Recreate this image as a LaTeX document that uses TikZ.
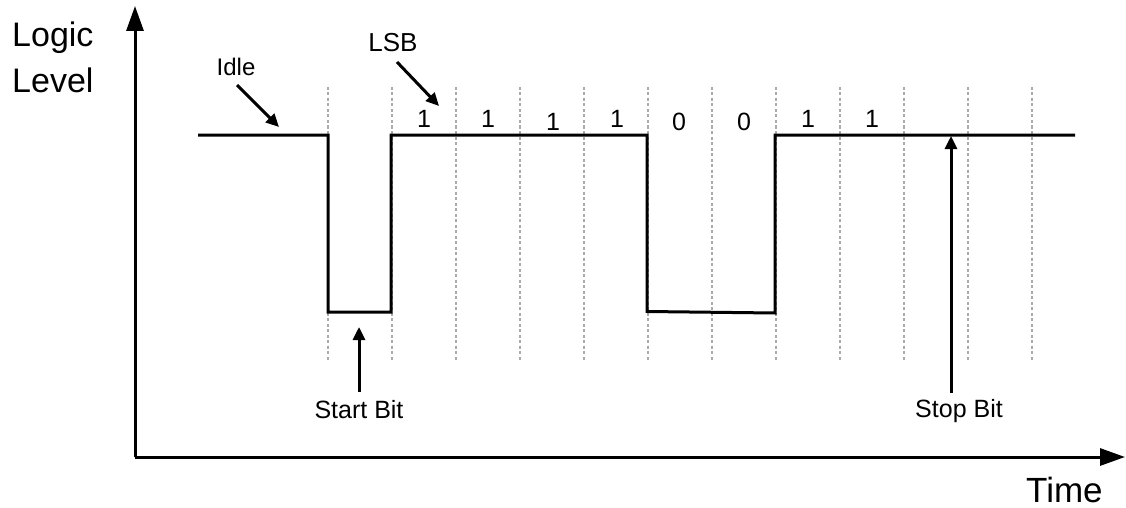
\documentclass[tikz,border=0pt]{standalone}
\usepackage{fontspec}
\setmainfont{Liberation Sans}
\usetikzlibrary{arrows.meta}
\begin{document}
\begin{tikzpicture}[x=1pt,y=-1pt,
  axis/.style={line width=3pt,-{Triangle[length=25pt,width=17pt]}},
  ann/.style={line width=3pt,-{Triangle[length=13pt,width=12pt]}},
  signal/.style={line width=3pt,line join=miter},
  gridline/.style={line width=2pt,color=black!33,dash pattern=on 3pt off 2.5pt},
  big/.style={anchor=base west,inner sep=0pt,font=\fontsize{34}{40}\selectfont},
  lbl/.style={anchor=base,inner sep=0pt,font=\fontsize{25}{30}\selectfont}]
\useasboundingbox (0,0) rectangle (1126,508);
% dashed bit boundaries
\foreach \i in {0,...,11}{
  \draw[gridline] (328+64*\i,87) -- (328+64*\i,360);
}
% axes
\coordinate (O) at (135,457);
\coordinate (Ytop) at (135,6);
\coordinate (Xend) at (1125,457);
\draw[axis] (O) -- (Ytop);
\draw[axis] (O) -- (Xend);
% signal
\coordinate (s0) at (198,135);
\coordinate (s1) at (328,135);
\coordinate (s2) at (328,312);
\coordinate (s3) at (391,312);
\coordinate (s4) at (391,135);
\coordinate (s5) at (647,135);
\coordinate (s6) at (647,311.5);
\coordinate (s7) at (775,313);
\coordinate (s8) at (775,135);
\coordinate (s9) at (1075,135);
\draw[signal] (s0) -- (s1) -- (s2) -- (s3) -- (s4) -- (s5) -- (s6) -- (s7) -- (s8) -- (s9);
% axis labels
\node[big] (logic) at (12,47) {Logic};
\node[big] (level) at (12,93) {Level};
\node[big,font=\fontsize{35}{40}\selectfont] (time) at (1026,502) {Time};
% bit values
\node[lbl] (b1) at (424,128) {1};
\node[lbl] (b2) at (488,128) {1};
\node[lbl] (b3) at (553,131) {1};
\node[lbl] (b4) at (617,128) {1};
\node[lbl] (b5) at (679,130) {0};
\node[lbl] (b6) at (744,130) {0};
\node[lbl] (b7) at (808,128) {1};
\node[lbl] (b8) at (872,128) {1};
% annotations
\node[lbl,font=\fontsize{24}{28}\selectfont] (idle) at (236,76) {Idle};
\coordinate (idleA) at (237,85);
\coordinate (idleB) at (279,127);
\draw[ann] (idleA) -- (idleB);
\node[lbl,font=\fontsize{26}{30}\selectfont] (lsb) at (393,52) {LSB};
\coordinate (lsbA) at (397,62);
\coordinate (lsbB) at (439,106);
\draw[ann] (lsbA) -- (lsbB);
\node[lbl] (start) at (359,418) {Start Bit};
\coordinate (startA) at (359,392);
\coordinate (startB) at (359,327);
\draw[ann] (startA) -- (startB);
\node[lbl] (stop) at (959,417) {Stop Bit};
\coordinate (stopA) at (951,393);
\coordinate (stopB) at (951,136);
\draw[ann] (stopA) -- (stopB);
\end{tikzpicture}
\end{document}
